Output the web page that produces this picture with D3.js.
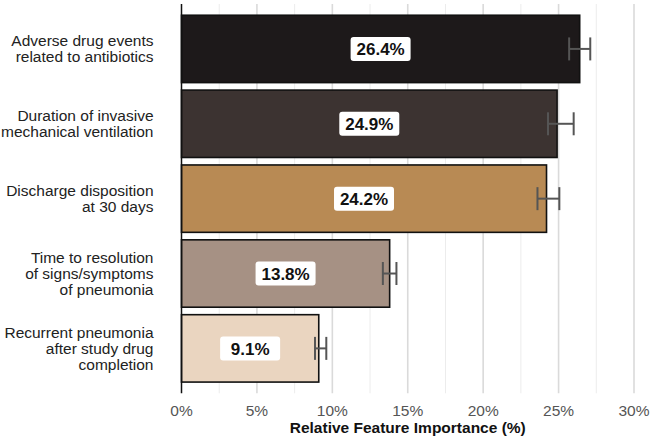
<!DOCTYPE html>
<html lang="en">
<head>
<meta charset="utf-8">
<title>Relative Feature Importance</title>
<style>
  body { margin: 0; background: #fff; }
  text { font-family: "Liberation Sans", Arial, sans-serif; }
</style>
</head>
<body>
<div id="chart"></div>
<script src="https://d3js.org/d3.v7.min.js"></script>
<script>
// values
var features = [
    ["Adverse drug events", "related to antibiotics"],
    ["Duration of invasive", "mechanical ventilation"],
    ["Discharge disposition", "at 30 days"],
    ["Time to resolution", "of signs/symptoms", "of pneumonia"],
    ["Recurrent pneumonia", "after study drug", "completion"]
];
var importance = [26.4, 24.9, 24.2, 13.8, 9.1];
var errLow  = [25.7, 24.3, 23.6, 13.35, 8.85];
var errHigh = [27.1, 26.0, 25.05, 14.25, 9.6];
var barColors = ["#1d191a", "#3c3331", "#b88a54", "#a69184", "#ead5c0"];
var xTicks = [0, 5, 10, 15, 20, 25, 30];
var xMinor = [2.5, 7.5, 12.5, 17.5, 22.5, 27.5];

var width = 650, height = 437;
var margin = {top: 4, right: 16, bottom: 44, left: 181.5};

var svg = d3.select("#chart").append("svg")
    .attr("width", width)
    .attr("height", height);

var x = d3.scaleLinear()
    .domain([0, 30])
    .range([margin.left, margin.left + 452.5]);

var ids = d3.range(features.length);
var y = d3.scaleBand()
    .domain(ids)
    .range([margin.top, height - margin.bottom + 0.3])
    .paddingInner(0.1)
    .paddingOuter(0.15);

// grid
svg.append("g").selectAll("line")
    .data(xMinor).enter().append("line")
    .attr("x1", d => x(d)).attr("x2", d => x(d))
    .attr("y1", y.range()[0]).attr("y2", y.range()[1])
    .attr("stroke", "#ececec").attr("stroke-width", 1);

svg.append("g").selectAll("line")
    .data(xTicks.slice(1)).enter().append("line")
    .attr("x1", d => x(d)).attr("x2", d => x(d))
    .attr("y1", y.range()[0]).attr("y2", y.range()[1])
    .attr("stroke", "#dadada").attr("stroke-width", 1.6);

// bars
svg.append("g").selectAll("rect")
    .data(ids).enter().append("rect")
    .attr("x", x(0))
    .attr("y", i => y(i))
    .attr("width", i => x(importance[i]) - x(0))
    .attr("height", y.bandwidth())
    .attr("fill", i => barColors[i])
    .attr("stroke", "#111")
    .attr("stroke-width", 1.6);

// error bars
var eb = svg.append("g").attr("stroke", "#555").attr("stroke-width", 2).attr("fill", "none");
ids.forEach(function(i) {
    var cy = y(i) + y.bandwidth() / 2;
    eb.append("line").attr("x1", x(errLow[i])).attr("x2", x(errHigh[i])).attr("y1", cy).attr("y2", cy);
    eb.append("line").attr("x1", x(errLow[i])).attr("x2", x(errLow[i])).attr("y1", cy - 11.5).attr("y2", cy + 11.5);
    eb.append("line").attr("x1", x(errHigh[i])).attr("x2", x(errHigh[i])).attr("y1", cy - 11.5).attr("y2", cy + 11.5);
});

// value labels
var lab = svg.append("g").selectAll("g")
    .data(ids).enter().append("g")
    .attr("transform", i => "translate(" + x(importance[i] / 2) + "," + (y(i) + y.bandwidth() / 2) + ")");
lab.append("rect")
    .attr("x", -30).attr("y", -12)
    .attr("width", 60).attr("height", 24)
    .attr("rx", 3)
    .attr("fill", "#fff");
lab.append("text")
    .attr("text-anchor", "middle")
    .attr("dy", "0.36em")
    .style("font-size", "17px")
    .style("font-weight", "bold")
    .attr("fill", "#111")
    .text(i => importance[i].toFixed(1) + "%");

// y axis line
svg.append("line")
    .attr("x1", x(0)).attr("x2", x(0))
    .attr("y1", y.range()[0]).attr("y2", y.range()[1])
    .attr("stroke", "#111").attr("stroke-width", 1.5);

// category labels
var lh = 16;
var cat = svg.append("g").selectAll("text")
    .data(ids).enter().append("text")
    .attr("text-anchor", "end")
    .attr("x", 153.5)
    .attr("y", i => y(i) + y.bandwidth() / 2 - (features[i].length - 1) * lh / 2)
    .attr("fill", "#222")
    .style("font-size", "15.5px");
cat.selectAll("tspan")
    .data(i => features[i]).enter().append("tspan")
    .attr("x", 153.5)
    .attr("dy", (d, k) => k === 0 ? "0.35em" : lh + "px")
    .text(d => d);

// x tick labels
svg.append("g").selectAll("text")
    .data(xTicks).enter().append("text")
    .attr("x", d => x(d))
    .attr("y", 416)
    .attr("text-anchor", "middle")
    .attr("fill", "#555")
    .style("font-size", "15.5px")
    .text(d => d + "%");

svg.append("text")
    .attr("x", x(15))
    .attr("y", 433)
    .attr("text-anchor", "middle")
    .attr("fill", "#111")
    .style("font-size", "15.5px")
    .style("font-weight", "bold")
    .text("Relative Feature Importance (%)");
</script>
</body>
</html>
